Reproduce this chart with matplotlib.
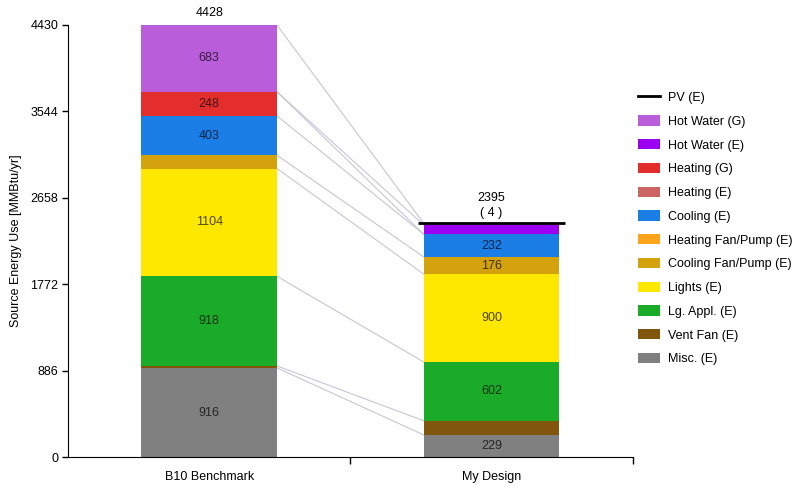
import matplotlib
matplotlib.use("Agg")
import matplotlib.pyplot as plt
from matplotlib.patches import Patch
from matplotlib.lines import Line2D
import numpy as np

plt.rcParams['font.family'] = ['Liberation Sans', 'DejaVu Sans']

categories = ['B10 Benchmark', 'My Design']

# stacking order, bottom to top
series = ['Misc. (E)', 'Vent Fan (E)', 'Lg. Appl. (E)', 'Lights (E)',
          'Cooling Fan/Pump (E)', 'Heating Fan/Pump (E)', 'Cooling (E)',
          'Heating (E)', 'Heating (G)', 'Hot Water (E)', 'Hot Water (G)']
colors = ['#808080', '#7f560b', '#1aab29', '#ffe800',
          '#d4a20d', '#ffa41a', '#1b7de6',
          '#cd6464', '#e42e2e', '#9b00f2', '#ba5ddb']
benchmark = [916, 20, 918, 1104, 136, 0, 403, 0, 248, 0, 683]
my_design = [229, 145, 602, 900, 176, 0, 232, 0, 0, 95, 16]
pv = [0, 4]
totals = [4428, 2395]

y_ticks = [0, 886, 1772, 2658, 3544, 4430]

fig = plt.figure(figsize=(7.99, 4.87), dpi=100)
ax = fig.add_axes([0.085, 0.061, 0.707, 0.888])

bar_w = 0.48
xs = np.arange(len(categories))
data = np.array([benchmark, my_design])   # shape (2, n_series)
bottoms = np.zeros(len(categories))
tops = []
for i, name in enumerate(series):
    vals = data[:, i]
    ax.bar(xs, vals, bar_w, bottom=bottoms, color=colors[i], linewidth=0, zorder=2)
    for j in range(len(categories)):
        if vals[j] >= 170:
            ax.text(xs[j], bottoms[j] + vals[j] / 2, str(int(vals[j])),
                    ha='center', va='center', fontsize=9, color='black', alpha=0.7, zorder=4)
    bottoms = bottoms + vals
    tops.append(bottoms.copy())

# connector lines between the two bars
for i in range(len(series)):
    if data[0, i] == 0 and data[1, i] == 0:
        continue
    ax.plot([xs[0] + bar_w / 2, xs[1] - bar_w / 2], [tops[i][0], tops[i][1]],
            color='#c6c6d6', lw=0.8, zorder=1)

# PV line at top of design bar
ax.plot([xs[1] - bar_w / 2 - 0.02, xs[1] + bar_w / 2 + 0.02], [totals[1], totals[1]],
        color='black', lw=2, zorder=5, solid_capstyle='butt')

# totals above bars
ax.text(xs[0], totals[0] + 60, str(totals[0]), ha='center', va='bottom', fontsize=9)
ax.text(xs[1], totals[1] + 200, str(totals[1]), ha='center', va='bottom', fontsize=9)
ax.text(xs[1], totals[1] + 50, '( %d )' % pv[1], ha='center', va='bottom', fontsize=9)

ax.set_xlim(-0.5, 1.5)
ax.set_ylim(0, 4430)
ax.set_yticks(y_ticks)
ax.set_yticklabels([str(t) for t in y_ticks], fontsize=9)
ax.set_xticks(xs)
ax.set_xticklabels(categories, fontsize=9)
ax.tick_params(axis='x', length=0, pad=10)
ax.set_xticks([0.5, 1.5], minor=True)
ax.tick_params(axis='x', which='minor', length=5, width=1)
ax.tick_params(axis='y', length=4, width=1, pad=3)
ax.set_ylabel('Source Energy Use [MMBtu/yr]', fontsize=9, labelpad=6)
for s in ['top', 'right']:
    ax.spines[s].set_visible(False)

handles = [Line2D([0], [0], color='black', lw=2)]
labels = ['PV (E)']
for i in reversed(range(len(series))):
    handles.append(Patch(facecolor=colors[i], edgecolor='none'))
    labels.append(series[i])
fig.legend(handles, labels, loc='upper left', bbox_to_anchor=(0.785, 0.835),
           frameon=False, fontsize=9, labelspacing=0.9, handlelength=1.7,
           handleheight=0.9, handletextpad=0.7)

fig.savefig('out.png', dpi=100)
